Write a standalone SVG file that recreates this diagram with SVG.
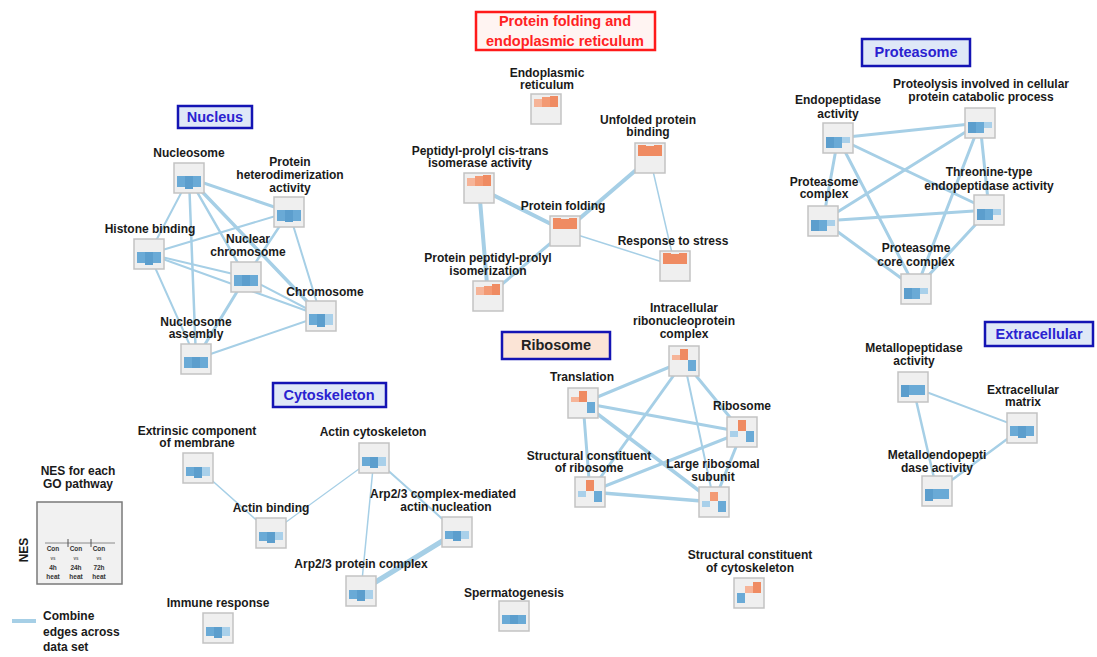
<svg xmlns="http://www.w3.org/2000/svg" width="1097" height="657" viewBox="0 0 1097 657">
<style>
  .lbl{font-family:"Liberation Sans",Arial,sans-serif;font-weight:bold;font-size:12px;fill:#1a1a1a;text-anchor:middle}
  .ttl{font-family:"Liberation Sans",Arial,sans-serif;font-weight:bold;font-size:14.5px;text-anchor:middle}
  .tb{fill:#dfe8f7;stroke:#1414b4;stroke-width:2.5}
  .tt{fill:#2a22d0}
  .box{fill:#efefef;stroke:#c3c3c3;stroke-width:1.5}
  .b{fill:#6aaad6}
  .b2{fill:#5c9ecd}
  .bl{fill:#a9d0ea}
  .o{fill:#ef8b62}
  .o2{fill:#f39a74}
  .ol{fill:#f6b498}
  .e{stroke:#a6cfe6;fill:none;stroke-linecap:round}
  .sm{font-family:"Liberation Sans",Arial,sans-serif;font-weight:bold;font-size:6.5px;fill:#333;text-anchor:middle}
</style>

<!-- connectors -->
<g id="connectors">
  <!-- Nucleus -->
  <line class="e" x1="189" y1="178" x2="289" y2="212" stroke-width="3"/>
  <line class="e" x1="189" y1="178" x2="149" y2="254" stroke-width="2"/>
  <line class="e" x1="189" y1="178" x2="196" y2="359" stroke-width="2.5"/>
  <line class="e" x1="189" y1="178" x2="246" y2="277" stroke-width="2.5"/>
  <line class="e" x1="189" y1="178" x2="321" y2="316" stroke-width="3.5"/>
  <line class="e" x1="289" y1="212" x2="149" y2="254" stroke-width="2"/>
  <line class="e" x1="289" y1="212" x2="246" y2="277" stroke-width="2.5"/>
  <line class="e" x1="289" y1="212" x2="321" y2="316" stroke-width="2"/>
  <line class="e" x1="149" y1="254" x2="246" y2="277" stroke-width="2"/>
  <line class="e" x1="149" y1="254" x2="321" y2="316" stroke-width="2"/>
  <line class="e" x1="149" y1="254" x2="196" y2="359" stroke-width="2"/>
  <line class="e" x1="246" y1="277" x2="321" y2="316" stroke-width="2"/>
  <line class="e" x1="246" y1="277" x2="196" y2="359" stroke-width="3"/>
  <line class="e" x1="321" y1="316" x2="196" y2="359" stroke-width="2"/>
  <!-- Protein folding -->
  <line class="e" x1="479" y1="188" x2="565" y2="231" stroke-width="4"/>
  <line class="e" x1="479" y1="188" x2="488" y2="296" stroke-width="4"/>
  <line class="e" x1="565" y1="231" x2="488" y2="296" stroke-width="3"/>
  <line class="e" x1="565" y1="231" x2="650" y2="158" stroke-width="4"/>
  <line class="e" x1="565" y1="231" x2="675" y2="266" stroke-width="1.5"/>
  <line class="e" x1="650" y1="158" x2="675" y2="266" stroke-width="1.5"/>
  <!-- Proteasome -->
  <line class="e" x1="838" y1="138" x2="980" y2="123" stroke-width="3"/>
  <line class="e" x1="838" y1="138" x2="823" y2="221" stroke-width="3"/>
  <line class="e" x1="838" y1="138" x2="916" y2="289" stroke-width="3"/>
  <line class="e" x1="838" y1="138" x2="989" y2="210" stroke-width="3"/>
  <line class="e" x1="980" y1="123" x2="823" y2="221" stroke-width="3"/>
  <line class="e" x1="980" y1="123" x2="989" y2="210" stroke-width="3"/>
  <line class="e" x1="980" y1="123" x2="916" y2="289" stroke-width="3"/>
  <line class="e" x1="989" y1="210" x2="916" y2="289" stroke-width="3"/>
  <line class="e" x1="823" y1="221" x2="989" y2="210" stroke-width="3"/>
  <line class="e" x1="823" y1="221" x2="916" y2="289" stroke-width="3"/>
  <!-- Ribosome -->
  <line class="e" x1="684" y1="361" x2="583" y2="403" stroke-width="3"/>
  <line class="e" x1="684" y1="361" x2="590" y2="492" stroke-width="3"/>
  <line class="e" x1="684" y1="361" x2="742" y2="432" stroke-width="3"/>
  <line class="e" x1="684" y1="361" x2="714" y2="502" stroke-width="2"/>
  <line class="e" x1="583" y1="403" x2="742" y2="432" stroke-width="3"/>
  <line class="e" x1="583" y1="403" x2="590" y2="492" stroke-width="3"/>
  <line class="e" x1="583" y1="403" x2="714" y2="502" stroke-width="3.5"/>
  <line class="e" x1="742" y1="432" x2="590" y2="492" stroke-width="3"/>
  <line class="e" x1="742" y1="432" x2="714" y2="502" stroke-width="3"/>
  <line class="e" x1="590" y1="492" x2="714" y2="502" stroke-width="3.5"/>
  <!-- Extracellular -->
  <line class="e" x1="913" y1="387" x2="1022" y2="428" stroke-width="2"/>
  <line class="e" x1="913" y1="387" x2="937" y2="491" stroke-width="2.5"/>
  <line class="e" x1="1022" y1="428" x2="937" y2="491" stroke-width="2.5"/>
  <!-- Cytoskeleton -->
  <line class="e" x1="198" y1="468" x2="271" y2="533" stroke-width="1.5"/>
  <line class="e" x1="271" y1="533" x2="374" y2="458" stroke-width="1.2"/>
  <line class="e" x1="374" y1="458" x2="361" y2="591" stroke-width="1.5"/>
  <line class="e" x1="374" y1="458" x2="457" y2="532" stroke-width="2"/>
  <line class="e" x1="457" y1="532" x2="361" y2="591" stroke-width="5"/>
</g>

<!-- Title boxes -->
<g id="title-nucleus"><rect class="tb" x="178" y="106" width="74" height="22"/><text class="ttl tt" x="215" y="122">Nucleus</text></g>
<g id="title-protein-folding"><rect x="476" y="12" width="179" height="38" fill="#fff4f2" stroke="#ff1a1a" stroke-width="2.5"/><text class="ttl" fill="#ff2222" x="565" y="26">Protein folding and</text><text class="ttl" fill="#ff2222" x="565" y="46">endoplasmic reticulum</text></g>
<g id="title-proteasome"><rect class="tb" x="862" y="39" width="108" height="27"/><text class="ttl tt" x="916" y="57">Proteasome</text></g>
<g id="title-ribosome"><rect x="502" y="332" width="108" height="27" fill="#fbe4d6" stroke="#1414b4" stroke-width="2.5"/><text class="ttl" fill="#222" x="556" y="350">Ribosome</text></g>
<g id="title-extracellular"><rect class="tb" x="985" y="322" width="108" height="24" rx="0"/><text class="ttl tt" x="1039" y="339">Extracellular</text></g>
<g id="title-cytoskeleton"><rect class="tb" x="273" y="383" width="113" height="24"/><text class="ttl tt" x="329" y="400">Cytoskeleton</text></g>

<!-- Nucleus nodes -->
<g id="n-nucleosome"><text class="lbl" x="189" y="157">Nucleosome</text><rect class="box" x="174" y="163" width="30" height="30"/><rect class="b" x="177" y="176" width="8" height="11"/><rect class="b2" x="185" y="176" width="8" height="13"/><rect class="b" x="193" y="176" width="8" height="11"/></g>
<g id="n-phd"><text class="lbl" x="290" y="166">Protein</text><text class="lbl" x="290" y="179">heterodimerization</text><text class="lbl" x="290" y="192">activity</text><rect class="box" x="274" y="197" width="30" height="30"/><rect class="b" x="277" y="210" width="8" height="11"/><rect class="b2" x="285" y="210" width="8" height="12"/><rect class="b" x="293" y="210" width="8" height="11"/></g>
<g id="n-histone"><text class="lbl" x="150" y="233">Histone binding</text><rect class="box" x="134" y="239" width="30" height="30"/><rect class="b" x="137" y="252" width="8" height="11"/><rect class="b2" x="145" y="252" width="8" height="13"/><rect class="b" x="153" y="252" width="8" height="11"/></g>
<g id="n-nuclchr"><text class="lbl" x="248" y="243">Nuclear</text><text class="lbl" x="248" y="256">chromosome</text><rect class="box" x="231" y="262" width="30" height="30"/><rect class="b" x="234" y="275" width="8" height="11"/><rect class="b2" x="242" y="275" width="8" height="11"/><rect class="b" x="250" y="275" width="8" height="11"/></g>
<g id="n-chromosome"><text class="lbl" x="325" y="296">Chromosome</text><rect class="box" x="306" y="301" width="30" height="30"/><rect class="b" x="309" y="314" width="8" height="11"/><rect class="b2" x="317" y="314" width="8" height="13"/><rect class="bl" x="325" y="314" width="8" height="11"/></g>
<g id="n-nasm"><text class="lbl" x="196" y="326">Nucleosome</text><text class="lbl" x="196" y="338">assembly</text><rect class="box" x="181" y="344" width="30" height="30"/><rect class="b" x="184" y="357" width="8" height="11"/><rect class="b2" x="192" y="357" width="8" height="11"/><rect class="b" x="200" y="357" width="8" height="11"/></g>

<!-- Protein folding nodes -->
<g id="n-er"><text class="lbl" x="547" y="77">Endoplasmic</text><text class="lbl" x="547" y="89">reticulum</text><rect class="box" x="531" y="94" width="30" height="30"/><rect class="ol" x="534" y="99" width="8" height="8"/><rect class="o2" x="542" y="97" width="8" height="10"/><rect class="o" x="550" y="96" width="8" height="11"/></g>
<g id="n-unfolded"><text class="lbl" x="648" y="124">Unfolded protein</text><text class="lbl" x="648" y="136">binding</text><rect class="box" x="635" y="143" width="30" height="30"/><rect class="o" x="638" y="145" width="8" height="11"/><rect class="o" x="646" y="146" width="8" height="10"/><rect class="o" x="654" y="145" width="8" height="11"/></g>
<g id="n-ppiase"><text class="lbl" x="480" y="155">Peptidyl-prolyl cis-trans</text><text class="lbl" x="480" y="167">isomerase activity</text><rect class="box" x="464" y="173" width="30" height="30"/><rect class="ol" x="467" y="178" width="8" height="8"/><rect class="o2" x="475" y="176" width="8" height="10"/><rect class="o" x="483" y="175" width="8" height="11"/></g>
<g id="n-pfold"><text class="lbl" x="563" y="210">Protein folding</text><rect class="box" x="550" y="216" width="30" height="30"/><rect class="o" x="553" y="218" width="8" height="11"/><rect class="o" x="561" y="219" width="8" height="10"/><rect class="o" x="569" y="218" width="8" height="11"/></g>
<g id="n-stress"><text class="lbl" x="673" y="245">Response to stress</text><rect class="box" x="660" y="251" width="30" height="30"/><rect class="o" x="663" y="253" width="8" height="11"/><rect class="o" x="671" y="254" width="8" height="10"/><rect class="o" x="679" y="253" width="8" height="11"/></g>
<g id="n-ppiso"><text class="lbl" x="488" y="262">Protein peptidyl-prolyl</text><text class="lbl" x="488" y="275">isomerization</text><rect class="box" x="473" y="281" width="30" height="30"/><rect class="ol" x="476" y="287" width="8" height="8"/><rect class="o2" x="484" y="286" width="8" height="9"/><rect class="o" x="492" y="284" width="8" height="11"/></g>

<!-- Proteasome nodes -->
<g id="n-endo"><text class="lbl" x="838" y="104">Endopeptidase</text><text class="lbl" x="838" y="118">activity</text><rect class="box" x="823" y="123" width="30" height="30"/><rect class="b2" x="826" y="137" width="8" height="11"/><rect class="b" x="834" y="137" width="8" height="11"/><rect class="bl" x="842" y="137" width="8" height="6"/></g>
<g id="n-proteo"><text class="lbl" x="981" y="88">Proteolysis involved in cellular</text><text class="lbl" x="981" y="101">protein catabolic process</text><rect class="box" x="965" y="108" width="30" height="30"/><rect class="b2" x="968" y="122" width="8" height="11"/><rect class="b" x="976" y="122" width="8" height="11"/><rect class="bl" x="984" y="122" width="8" height="6"/></g>
<g id="n-pcomplex"><text class="lbl" x="824" y="186">Proteasome</text><text class="lbl" x="824" y="198">complex</text><rect class="box" x="808" y="206" width="30" height="30"/><rect class="b2" x="811" y="220" width="8" height="11"/><rect class="b" x="819" y="220" width="8" height="11"/><rect class="bl" x="827" y="220" width="8" height="6"/></g>
<g id="n-threo"><text class="lbl" x="989" y="176">Threonine-type</text><text class="lbl" x="989" y="190">endopeptidase activity</text><rect class="box" x="974" y="195" width="30" height="30"/><rect class="b2" x="977" y="209" width="8" height="11"/><rect class="b" x="985" y="209" width="8" height="11"/><rect class="bl" x="993" y="209" width="8" height="6"/></g>
<g id="n-core"><text class="lbl" x="916" y="252">Proteasome</text><text class="lbl" x="916" y="266">core complex</text><rect class="box" x="901" y="274" width="30" height="30"/><rect class="b2" x="904" y="288" width="8" height="11"/><rect class="b" x="912" y="288" width="8" height="11"/><rect class="bl" x="920" y="288" width="8" height="6"/></g>

<!-- Ribosome nodes -->
<g id="n-intra"><text class="lbl" x="684" y="312">Intracellular</text><text class="lbl" x="684" y="325">ribonucleoprotein</text><text class="lbl" x="684" y="338">complex</text><rect class="box" x="669" y="346" width="30" height="30"/><rect class="ol" x="672" y="355" width="8" height="5"/><rect class="o" x="680" y="349" width="8" height="11"/><rect class="b" x="688" y="360" width="8" height="11"/></g>
<g id="n-transl"><text class="lbl" x="582" y="381">Translation</text><rect class="box" x="568" y="388" width="30" height="30"/><rect class="ol" x="571" y="397" width="8" height="5"/><rect class="o" x="579" y="391" width="8" height="11"/><rect class="b" x="587" y="402" width="8" height="11"/></g>
<g id="n-ribo"><text class="lbl" x="742" y="410">Ribosome</text><rect class="box" x="727" y="417" width="30" height="30"/><rect class="bl" x="730" y="431" width="8" height="6"/><rect class="o" x="738" y="420" width="8" height="11"/><rect class="b" x="746" y="431" width="8" height="11"/></g>
<g id="n-scr"><text class="lbl" x="589" y="460">Structural constituent</text><text class="lbl" x="589" y="472">of ribosome</text><rect class="box" x="575" y="477" width="30" height="30"/><rect class="bl" x="578" y="491" width="8" height="6"/><rect class="o" x="586" y="480" width="8" height="11"/><rect class="b" x="594" y="491" width="8" height="11"/></g>
<g id="n-lrs"><text class="lbl" x="713" y="468">Large ribosomal</text><text class="lbl" x="713" y="481">subunit</text><rect class="box" x="699" y="487" width="30" height="30"/><rect class="bl" x="702" y="501" width="8" height="6"/><rect class="o2" x="710" y="492" width="8" height="9"/><rect class="b" x="718" y="501" width="8" height="11"/></g>

<!-- Extracellular nodes -->
<g id="n-mpa"><text class="lbl" x="914" y="352">Metallopeptidase</text><text class="lbl" x="914" y="365">activity</text><rect class="box" x="898" y="372" width="30" height="30"/><rect class="b2" x="901" y="385" width="8" height="12"/><rect class="b" x="909" y="385" width="8" height="10"/><rect class="b" x="917" y="385" width="8" height="10"/></g>
<g id="n-ecm"><text class="lbl" x="1023" y="394">Extracellular</text><text class="lbl" x="1023" y="406">matrix</text><rect class="box" x="1007" y="413" width="30" height="30"/><rect class="b" x="1010" y="426" width="8" height="10"/><rect class="b2" x="1018" y="426" width="8" height="12"/><rect class="b" x="1026" y="426" width="8" height="10"/></g>
<g id="n-mea"><text class="lbl" x="937" y="459">Metalloendopepti</text><text class="lbl" x="937" y="472">dase activity</text><rect class="box" x="922" y="476" width="30" height="30"/><rect class="b2" x="925" y="489" width="8" height="12"/><rect class="b" x="933" y="489" width="8" height="10"/><rect class="b" x="941" y="489" width="8" height="10"/></g>

<!-- Cytoskeleton nodes -->
<g id="n-extr"><text class="lbl" x="197" y="435">Extrinsic component</text><text class="lbl" x="197" y="447">of membrane</text><rect class="box" x="183" y="453" width="30" height="30"/><rect class="b" x="186" y="467" width="8" height="9"/><rect class="b2" x="194" y="467" width="8" height="11"/><rect class="bl" x="202" y="467" width="8" height="9"/></g>
<g id="n-actcyto"><text class="lbl" x="373" y="436">Actin cytoskeleton</text><rect class="box" x="359" y="443" width="30" height="30"/><rect class="b" x="362" y="457" width="8" height="9"/><rect class="b2" x="370" y="457" width="8" height="11"/><rect class="bl" x="378" y="457" width="8" height="9"/></g>
<g id="n-actbind"><text class="lbl" x="271" y="512">Actin binding</text><rect class="box" x="256" y="518" width="30" height="30"/><rect class="b" x="259" y="532" width="8" height="9"/><rect class="b2" x="267" y="532" width="8" height="11"/><rect class="bl" x="275" y="532" width="8" height="8"/></g>
<g id="n-arpnuc"><text class="lbl" x="443" y="498">Arp2/3 complex-mediated</text><text class="lbl" x="446" y="511">actin nucleation</text><rect class="box" x="442" y="517" width="30" height="30"/><rect class="b" x="445" y="531" width="8" height="8"/><rect class="b2" x="453" y="531" width="8" height="10"/><rect class="bl" x="461" y="531" width="8" height="8"/></g>
<g id="n-arpcplx"><text class="lbl" x="361" y="568">Arp2/3 protein complex</text><rect class="box" x="346" y="576" width="30" height="30"/><rect class="b" x="349" y="590" width="8" height="9"/><rect class="b2" x="357" y="590" width="8" height="11"/><rect class="bl" x="365" y="590" width="8" height="9"/></g>
<g id="n-immune"><text class="lbl" x="218" y="607">Immune response</text><rect class="box" x="203" y="613" width="30" height="30"/><rect class="b" x="206" y="627" width="8" height="9"/><rect class="b2" x="214" y="627" width="8" height="11"/><rect class="bl" x="222" y="627" width="8" height="9"/></g>
<g id="n-sperm"><text class="lbl" x="514" y="597">Spermatogenesis</text><rect class="box" x="499" y="601" width="30" height="30"/><rect class="b" x="502" y="615" width="8" height="9"/><rect class="b2" x="510" y="615" width="8" height="9"/><rect class="b" x="518" y="615" width="8" height="9"/></g>
<g id="n-scc"><text class="lbl" x="750" y="559">Structural constituent</text><text class="lbl" x="750" y="572">of cytoskeleton</text><rect class="box" x="734" y="578" width="30" height="30"/><rect class="b" x="737" y="593" width="8" height="10"/><rect class="ol" x="745" y="586" width="8" height="7"/><rect class="o" x="753" y="582" width="8" height="11"/></g>

<!-- Legend -->
<g id="legend">
  <text class="lbl" x="78" y="475">NES for each</text>
  <text class="lbl" x="78" y="488">GO pathway</text>
  <rect x="37" y="502" width="85" height="82" fill="#f1f1f1" stroke="#7a7a7a" stroke-width="1.5"/>
  <line x1="45" y1="543" x2="115" y2="543" stroke="#8a8a8a" stroke-width="1"/>
  <line x1="68" y1="539" x2="68" y2="547" stroke="#555" stroke-width="1"/>
  <line x1="91" y1="539" x2="91" y2="547" stroke="#555" stroke-width="1"/>
  <text class="sm" x="53" y="551">Con</text><text class="sm" x="53" y="560" style="font-size:4.5px;fill:#666">vs</text><text class="sm" x="53" y="570">4h</text><text class="sm" x="53" y="579">heat</text>
  <text class="sm" x="76" y="551">Con</text><text class="sm" x="76" y="560" style="font-size:4.5px;fill:#666">vs</text><text class="sm" x="76" y="570">24h</text><text class="sm" x="76" y="579">heat</text>
  <text class="sm" x="99" y="551">Con</text><text class="sm" x="99" y="560" style="font-size:4.5px;fill:#666">vs</text><text class="sm" x="99" y="570">72h</text><text class="sm" x="99" y="579">heat</text>
  <text class="lbl" transform="translate(28,550) rotate(-90)">NES</text>
  <line x1="12" y1="621" x2="36" y2="621" stroke="#a6cfe6" stroke-width="4"/>
  <text class="lbl" x="43" y="620" style="text-anchor:start">Combine</text>
  <text class="lbl" x="43" y="636" style="text-anchor:start">edges across</text>
  <text class="lbl" x="43" y="651" style="text-anchor:start">data set</text>
</g>
</svg>
